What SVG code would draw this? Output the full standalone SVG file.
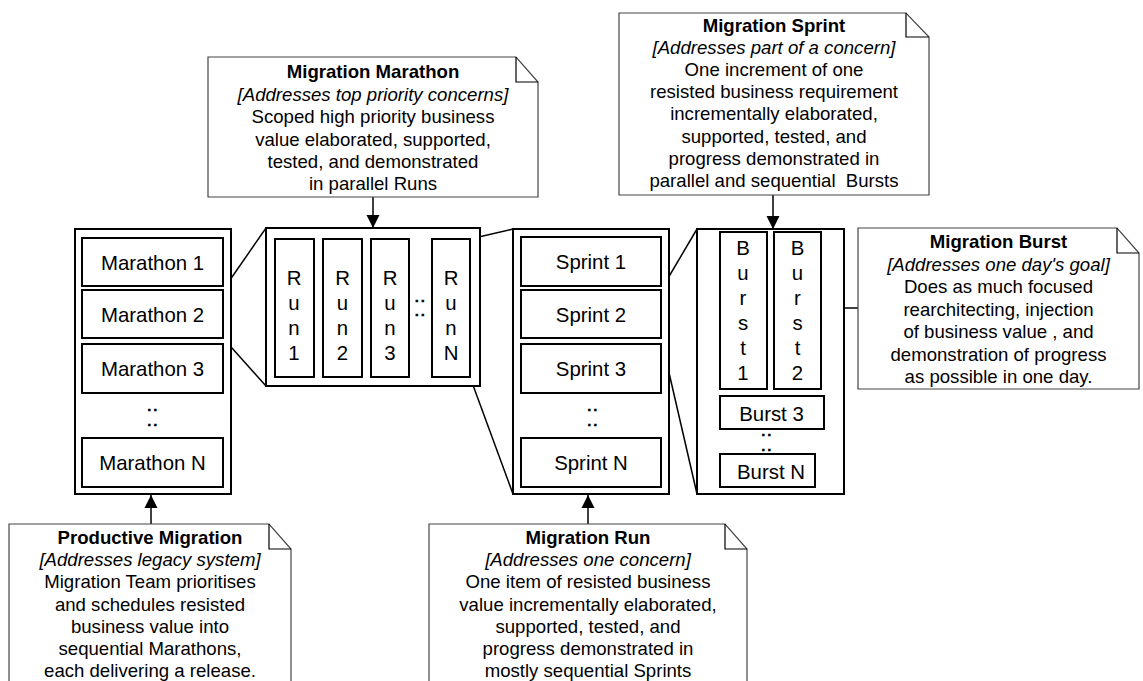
<svg xmlns="http://www.w3.org/2000/svg" width="1143" height="681" viewBox="0 0 1143 681">
<defs>
<marker id="ah" markerUnits="userSpaceOnUse" markerWidth="14" markerHeight="14" viewBox="0 0 14 14" refX="13" refY="7" orient="auto">
<path d="M0,0.5 L13,7 L0,13.5 Z" fill="#000"/>
</marker>
<style>
.cont{fill:#fff;stroke:#000;stroke-width:2}
.box{fill:#fff;stroke:#000;stroke-width:2}
.bt{font-family:"Liberation Sans",Arial,sans-serif;font-size:20.4px;fill:#000;text-anchor:middle}
.dots{font-family:"Liberation Sans",Arial,sans-serif;font-size:13px;font-weight:900;letter-spacing:2.4px;fill:#000;stroke:#000;stroke-width:0.6;text-anchor:middle}
.note{fill:#fff;stroke:#444;stroke-width:1.2}
.fold{fill:none;stroke:#000;stroke-width:1.2}
.nt{font-family:"Liberation Sans",Arial,sans-serif;font-size:18.6px;fill:#000;text-anchor:middle;white-space:pre}
.nt .b{font-weight:bold}
.nt .i{font-style:italic}
.zl{stroke:#000;stroke-width:1.5;fill:none}
.ar{stroke:#000;stroke-width:1.5;fill:none;marker-end:url(#ah)}
</style>
</defs>
<rect width="1143" height="681" fill="#fff"/>

<g id="connectors">
<line class="zl" x1="223" y1="290" x2="266" y2="228"/>
<line class="zl" x1="223" y1="338" x2="266" y2="386"/>
<line class="zl" x1="470" y1="239" x2="513" y2="229"/>
<line class="zl" x1="470" y1="377" x2="513" y2="494"/>
<line class="zl" x1="661" y1="290" x2="697" y2="229"/>
<line class="zl" x1="661" y1="338" x2="697" y2="494"/>
<line class="ar" x1="373" y1="197" x2="373" y2="228"/>
<line class="ar" x1="773" y1="195" x2="773" y2="229"/>
<line class="ar" x1="858" y1="308" x2="822" y2="308"/>
<line class="ar" x1="151" y1="524" x2="151" y2="495"/>
<line class="ar" x1="588" y1="524" x2="588" y2="495"/>
</g>

<g id="marathons">
<rect class="cont" x="75" y="229" width="156" height="265"/>
<g id="marathon1"><rect class="box" x="82" y="238" width="141" height="48"/><text class="bt" x="152.5" y="269.5">Marathon 1</text></g>
<g id="marathon2"><rect class="box" x="82" y="290" width="141" height="48"/><text class="bt" x="152.5" y="321.5">Marathon 2</text></g>
<g id="marathon3"><rect class="box" x="82" y="344" width="141" height="49"/><text class="bt" x="152.5" y="376">Marathon 3</text></g>
<text class="dots" x="153.5" y="410.5">..</text>
<text class="dots" x="153.5" y="425.5">..</text>
<g id="marathonN"><rect class="box" x="82" y="438" width="141" height="49"/><text class="bt" x="152.5" y="470">Marathon N</text></g>
</g>

<g id="runs">
<rect class="cont" x="266" y="228" width="214" height="158"/>
<g id="run1"><rect class="box" x="275" y="239" width="39" height="138"/>
<text class="bt" x="294" y="284.6">R</text><text class="bt" x="294" y="309.6">u</text><text class="bt" x="294" y="334.6">n</text><text class="bt" x="294" y="359.6">1</text></g>
<g id="run2"><rect class="box" x="323" y="239" width="39" height="138"/>
<text class="bt" x="342.5" y="284.6">R</text><text class="bt" x="342.5" y="309.6">u</text><text class="bt" x="342.5" y="334.6">n</text><text class="bt" x="342.5" y="359.6">2</text></g>
<g id="run3"><rect class="box" x="371" y="239" width="38" height="138"/>
<text class="bt" x="390" y="284.6">R</text><text class="bt" x="390" y="309.6">u</text><text class="bt" x="390" y="334.6">n</text><text class="bt" x="390" y="359.6">3</text></g>
<text class="dots" x="421" y="302">..</text>
<text class="dots" x="421" y="315.5">..</text>
<g id="runN"><rect class="box" x="432" y="239" width="38" height="138"/>
<text class="bt" x="451" y="284.6">R</text><text class="bt" x="451" y="309.6">u</text><text class="bt" x="451" y="334.6">n</text><text class="bt" x="451" y="359.6">N</text></g>
</g>

<g id="sprints">
<rect class="cont" x="513" y="229" width="156" height="265"/>
<g id="sprint1"><rect class="box" x="521" y="237" width="140" height="49"/><text class="bt" x="591" y="269">Sprint 1</text></g>
<g id="sprint2"><rect class="box" x="521" y="290" width="140" height="48"/><text class="bt" x="591" y="321.5">Sprint 2</text></g>
<g id="sprint3"><rect class="box" x="521" y="344" width="140" height="49"/><text class="bt" x="591" y="376">Sprint 3</text></g>
<text class="dots" x="593.5" y="410.5">..</text>
<text class="dots" x="593.5" y="425.5">..</text>
<g id="sprintN"><rect class="box" x="521" y="438" width="140" height="49"/><text class="bt" x="591" y="470">Sprint N</text></g>
</g>

<g id="bursts">
<rect class="cont" x="697" y="229" width="147" height="265"/>
<g id="burst1"><rect class="box" x="720" y="232" width="47" height="157"/>
<text class="bt" x="743" y="254.6">B</text><text class="bt" x="743" y="279.7">u</text><text class="bt" x="743" y="304.8">r</text><text class="bt" x="743" y="329.9">s</text><text class="bt" x="743" y="355">t</text><text class="bt" x="743" y="380">1</text></g>
<g id="burst2"><rect class="box" x="774" y="232" width="47" height="157"/>
<text class="bt" x="797.5" y="254.6">B</text><text class="bt" x="797.5" y="279.7">u</text><text class="bt" x="797.5" y="304.8">r</text><text class="bt" x="797.5" y="329.9">s</text><text class="bt" x="797.5" y="355">t</text><text class="bt" x="797.5" y="380">2</text></g>
<g id="burst3"><rect class="box" x="720" y="396" width="104" height="33"/><text class="bt" x="771.5" y="420.6">Burst 3</text></g>
<text class="dots" x="767.5" y="436">..</text>
<text class="dots" x="767.5" y="450.5">..</text>
<g id="burstN"><rect class="box" x="720" y="454" width="95" height="33"/><text class="bt" x="771" y="479">Burst N</text></g>
</g>

<g id="note-marathon">
<path class="note" d="M208,57 H516 L538,82 V197 H208 Z"/>
<path class="fold" d="M516,57 V82 H538"/>
<text class="nt" x="373"><tspan class="b" x="373" y="78">Migration Marathon</tspan><tspan class="i" x="373" y="100.5">[Addresses top priority concerns]</tspan><tspan x="373" y="123">Scoped high priority business</tspan><tspan x="373" y="145.5">value elaborated, supported,</tspan><tspan x="373" y="168">tested, and demonstrated</tspan><tspan x="373" y="190">in parallel Runs</tspan></text>
</g>

<g id="note-sprint">
<path class="note" d="M619,13 H906 L929,37 V195 H619 Z"/>
<path class="fold" d="M906,13 V37 H929"/>
<text class="nt" x="774"><tspan class="b" x="774" y="31.5">Migration Sprint</tspan><tspan class="i" x="774" y="54">[Addresses part of a concern]</tspan><tspan x="774" y="76">One increment of one</tspan><tspan x="774" y="98">resisted business requirement</tspan><tspan x="774" y="120">incrementally elaborated,</tspan><tspan x="774" y="142.5">supported, tested, and</tspan><tspan x="774" y="165">progress demonstrated in</tspan><tspan x="774" y="187">parallel and sequential  Bursts</tspan></text>
</g>

<g id="note-burst">
<path class="note" d="M858,228 H1117 L1139,253 V389 H858 Z"/>
<path class="fold" d="M1117,228 V253 H1139"/>
<text class="nt" x="998.5"><tspan class="b" x="998.5" y="248">Migration Burst</tspan><tspan class="i" x="998.5" y="270.5">[Addresses one day's goal]</tspan><tspan x="998.5" y="293">Does as much focused</tspan><tspan x="998.5" y="315.5">rearchitecting, injection</tspan><tspan x="998.5" y="338">of business value , and</tspan><tspan x="998.5" y="360.5">demonstration of progress</tspan><tspan x="998.5" y="383">as possible in one day.</tspan></text>
</g>

<g id="note-productive">
<path class="note" d="M9,524 H269 L291,549 V700 H9 Z"/>
<path class="fold" d="M269,524 V549 H291"/>
<text class="nt" x="150"><tspan class="b" x="150" y="544">Productive Migration</tspan><tspan class="i" x="150" y="566.2">[Addresses legacy system]</tspan><tspan x="150" y="588.4">Migration Team prioritises</tspan><tspan x="150" y="610.6">and schedules resisted</tspan><tspan x="150" y="632.8">business value into</tspan><tspan x="150" y="655">sequential Marathons,</tspan><tspan x="150" y="676.5">each delivering a release.</tspan></text>
</g>

<g id="note-run">
<path class="note" d="M429,524 H725 L747,549 V700 H429 Z"/>
<path class="fold" d="M725,524 V549 H747"/>
<text class="nt" x="588"><tspan class="b" x="588" y="544">Migration Run</tspan><tspan class="i" x="588" y="566.2">[Addresses one concern]</tspan><tspan x="588" y="588.4">One item of resisted business</tspan><tspan x="588" y="610.6">value incrementally elaborated,</tspan><tspan x="588" y="632.8">supported, tested, and</tspan><tspan x="588" y="655">progress demonstrated in</tspan><tspan x="588" y="676.5">mostly sequential Sprints</tspan></text>
</g>
</svg>
